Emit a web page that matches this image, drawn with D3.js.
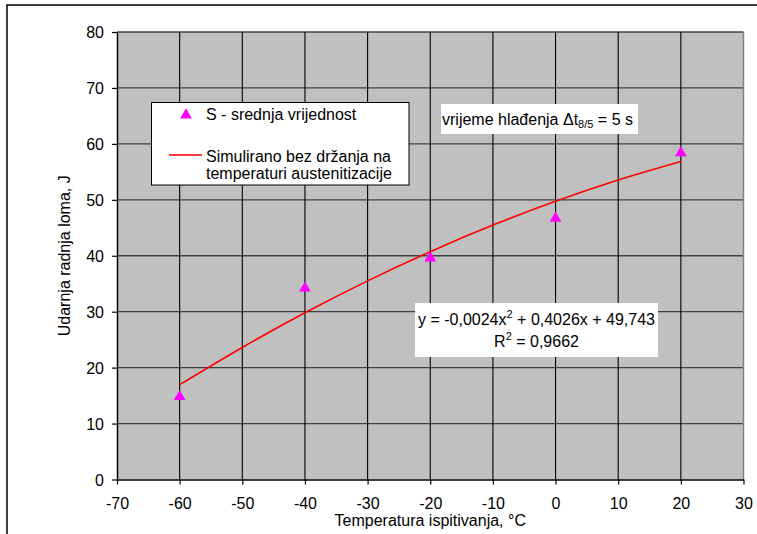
<!DOCTYPE html>
<html>
<head>
<meta charset="utf-8">
<script src="https://cdn.jsdelivr.net/npm/d3@7"></script>
<style>
  html, body { margin: 0; padding: 0; background: #fff; }
  svg { display: block; font-family: "Liberation Sans", Arial, sans-serif; }
</style>
</head>
<body>
<svg id="chart" width="757" height="534"></svg>
<script>
// ---- data ----
const pointX = [-60, -40, -20, 0, 20];
const pointY = [14.8, 34.2, 39.6, 46.7, 58.4];
const curveX = [-60, -50, -40, -30, -20, -10, 0, 10, 20];
const curveY = [16.95, 23.61, 29.80, 35.51, 40.73, 45.48, 49.74, 53.53, 56.84];
const xTicks = [-70, -60, -50, -40, -30, -20, -10, 0, 10, 20, 30];
const yTicks = [0, 10, 20, 30, 40, 50, 60, 70, 80];
const xTitle = "Temperatura ispitivanja, °C";
const yTitle = "Udarnja radnja loma, J";
const legendPoint = "S - srednja vrijednost";
const legendLine = ["Simulirano bez držanja na", "temperaturi austenitizacije"];
const eqLine1 = ["y = -0,0024x", "2", " + 0,4026x + 49,743"];
const eqLine2 = ["R", "2", " = 0,9662"];

// ---- layout ----
const FS = "16px";
const svg = d3.select("#chart");
const L = 117, R = 743.5, T = 32, B = 479.5;
const x = d3.scaleLinear().domain([-70, 30]).range([L, R]);
const y = d3.scaleLinear().domain([0, 80]).range([B, T]);

// outer frame
svg.append("rect").attr("x", 7).attr("y", 5).attr("width", 900).attr("height", 700)
  .attr("fill", "none").attr("stroke", "#000").attr("stroke-width", 1.5);

// plot background
svg.append("rect").attr("x", L).attr("y", T).attr("width", R - L).attr("height", B - T)
  .attr("fill", "#C0C0C0");

// grid
svg.append("g").selectAll("line").data(yTicks.filter(d => d > 0)).join("line")
  .attr("x1", L).attr("x2", R).attr("y1", d => y(d)).attr("y2", d => y(d))
  .attr("stroke", "#404040").attr("stroke-width", 1.3);
svg.append("g").selectAll("line").data(xTicks.filter(d => d > -70 && d < 30)).join("line")
  .attr("y1", T).attr("y2", B).attr("x1", d => x(d)).attr("x2", d => x(d))
  .attr("stroke", "#000").attr("stroke-width", 1.1);
// right border
svg.append("line").attr("x1", R).attr("x2", R).attr("y1", T).attr("y2", B)
  .attr("stroke", "#808080").attr("stroke-width", 1.5);

// axes
const fmt = d => String(d);
const xAxis = svg.append("g").attr("transform", `translate(0,${B})`)
  .call(d3.axisBottom(x).tickValues(xTicks).tickSize(5).tickSizeOuter(0).tickPadding(13).tickFormat(fmt));
const yAxis = svg.append("g").attr("transform", `translate(${L},0)`)
  .call(d3.axisLeft(y).tickValues(yTicks).tickSize(5).tickSizeOuter(0).tickPadding(8).tickFormat(fmt));
[xAxis, yAxis].forEach(g => {
  g.select(".domain").attr("stroke", "#000").attr("stroke-width", 1.5);
  g.selectAll(".tick line").attr("stroke", "#000").attr("stroke-width", 1.2);
  g.selectAll(".tick text").attr("fill", "#000").style("font-size", FS)
    .style("font-family", '"Liberation Sans", Arial, sans-serif');
});
xAxis.selectAll(".tick text").attr("dy", "0.71em");
yAxis.selectAll(".tick text").attr("dy", "0.36em");

// axis titles
svg.append("text").attr("x", (L + R) / 2).attr("y", 526).attr("text-anchor", "middle")
  .style("font-size", FS).text(xTitle);
svg.append("text").attr("transform", `translate(70,${(T + B) / 2}) rotate(-90)`)
  .attr("text-anchor", "middle").style("font-size", FS).text(yTitle);

// trend curve
const line = d3.line().x(d => x(d[0])).y(d => y(d[1])).curve(d3.curveCatmullRom);
svg.append("path").datum(curveX.map((v, i) => [v, curveY[i]]))
  .attr("d", line).attr("fill", "none").attr("stroke", "#FF0000").attr("stroke-width", 1.6);

// points
const tri = d3.symbol().type(d3.symbolTriangle).size(60);
svg.append("g").selectAll("path").data(pointX.map((v, i) => [v, pointY[i]])).join("path")
  .attr("d", tri).attr("transform", d => `translate(${x(d[0])},${y(d[1])})`)
  .attr("fill", "#FF00FF");

// legend
const lg = svg.append("g");
lg.append("rect").attr("x", 151.5).attr("y", 102.5).attr("width", 257.5).attr("height", 82.5)
  .attr("fill", "#fff").attr("stroke", "#000").attr("stroke-width", 1);
lg.append("path").attr("d", tri).attr("transform", "translate(186,115)").attr("fill", "#FF00FF");
lg.append("text").attr("x", 206).attr("y", 120).style("font-size", FS).text(legendPoint);
lg.append("line").attr("x1", 169).attr("x2", 202).attr("y1", 155).attr("y2", 155)
  .attr("stroke", "#FF0000").attr("stroke-width", 1.6);
lg.append("text").attr("x", 206).attr("y", 161.5).style("font-size", FS).text(legendLine[0]);
lg.append("text").attr("x", 206).attr("y", 178.5).style("font-size", FS).text(legendLine[1]);

// annotation: cooling time
svg.append("rect").attr("x", 441).attr("y", 104).attr("width", 197).attr("height", 30).attr("fill", "#fff");
const ann = svg.append("text").attr("x", 442).attr("y", 125).style("font-size", FS);
ann.append("tspan").text("vrijeme hlađenja Δt");
ann.append("tspan").attr("dy", 3).style("font-size", "11px").text("8/5");
ann.append("tspan").attr("dy", -3).text(" = 5 s");

// annotation: equation
svg.append("rect").attr("x", 415).attr("y", 303).attr("width", 243).attr("height", 54).attr("fill", "#fff");
const e1 = svg.append("text").attr("x", 536.5).attr("y", 325).attr("text-anchor", "middle").style("font-size", FS);
e1.append("tspan").text(eqLine1[0]);
e1.append("tspan").attr("dy", -7).style("font-size", "11px").text(eqLine1[1]);
e1.append("tspan").attr("dy", 7).text(eqLine1[2]);
const e2 = svg.append("text").attr("x", 536.5).attr("y", 347).attr("text-anchor", "middle").style("font-size", FS);
e2.append("tspan").text(eqLine2[0]);
e2.append("tspan").attr("dy", -7).style("font-size", "11px").text(eqLine2[1]);
e2.append("tspan").attr("dy", 7).text(eqLine2[2]);
</script>
</body>
</html>
